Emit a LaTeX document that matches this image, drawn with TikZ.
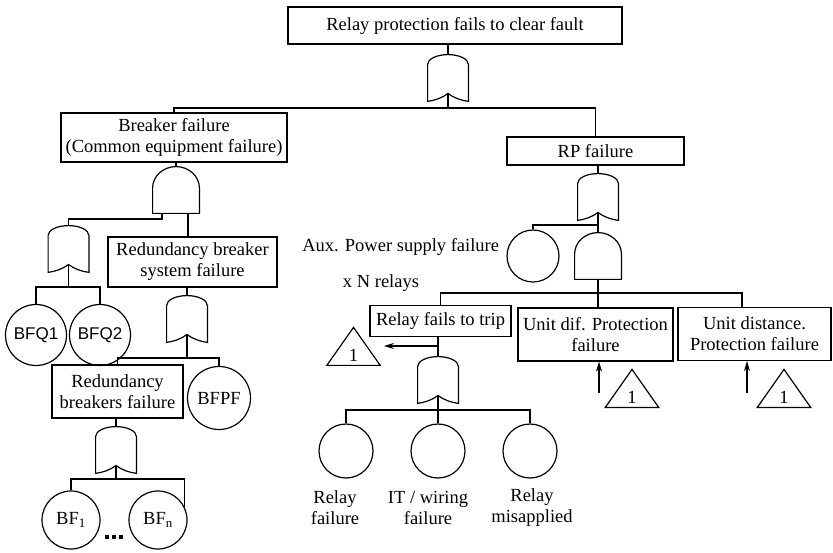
\documentclass[tikz,border=0pt]{standalone}
\usepackage{fontspec}
\setmainfont{Liberation Serif}
\newfontfamily\bfqfont{Liberation Sans}
\usepackage{tikz}
\usetikzlibrary{arrows.meta}

\newcommand{\drawor}[1]{%
  \draw (#1.south west) ++(0.6,0.6) -- ++(0,36.9)
    arc[start angle=180, end angle=0, x radius=20.4, y radius=9.9]
    -- ++(0,-36.9) .. controls +(-7.4,1) and +(6,-4.5) .. ++(-20.4,7.9)
    .. controls +(-6,-4.5) and +(7.4,1) .. ++(-20.4,-7.9) -- cycle;
  \draw (#1.south) -- ++(0,8.5);}
\newcommand{\drawand}[1]{%
  \draw (#1.south west) ++(0.6,0.6) -- ++(0,25.4)
    arc[start angle=180, end angle=0, x radius=23.4, y radius=21.4]
    -- ++(0,-25.4) -- cycle;}
\newcommand{\drawtri}[1]{%
  \draw (#1.south west) ++(0.8,0.6) -- ++(26.7,38) -- ++(26.7,-38) -- cycle;}

\begin{document}
\begin{tikzpicture}[x=1pt, y=1pt, line width=1.2pt,
        every node/.style={font=\fontsize{18.5}{21}\selectfont, align=center},
        evt/.style={draw, rectangle, inner sep=1pt},
        basic/.style={draw, circle, inner sep=0pt, minimum size=#1},
        sansbasic/.style={basic=#1, font=\bfqfont\fontsize{17}{20}\selectfont},
        orgate/.style={rectangle, inner sep=0pt, outer sep=0pt, minimum width=42, minimum height=48},
        andgate/.style={rectangle, inner sep=0pt, outer sep=0pt, minimum width=48, minimum height=48},
        transfer/.style={rectangle, inner sep=0pt, outer sep=0pt, minimum width=55, minimum height=40},
        conn/.style={-{Stealth[length=10pt, width=6pt]}}
    ]
    \useasboundingbox (0,0) rectangle (833,-553);

    \node[evt, minimum width=334, minimum height=37] (top) at (455,-25.5) {Relay protection fails to clear fault};
    \node[orgate] (g0) at (448,-78) {};
    \node[evt, minimum width=226, minimum height=49] (brk) at (174,-137.5) {Breaker failure\\(Common equipment failure)};
    \node[evt, minimum width=177, minimum height=28] (rp) at (595.5,-151) {RP failure};

    \node[andgate] (gb) at (176,-190) {};
    \node[orgate] (gl) at (68.5,-249) {};
    \node[sansbasic=61] (bfq1) at (36,-335) {BFQ1};
    \node[sansbasic=61] (bfq2) at (100,-335) {BFQ2};
    \node[evt, minimum width=169, minimum height=50] (rbs) at (192.5,-262) {Redundancy breaker\\system failure};
    \node[orgate] (grbs) at (187,-319) {};
    \node[evt, minimum width=131, minimum height=53] (rbf) at (117.5,-391.5) {Redundancy\\breakers failure};
    \node[basic=63] (bfpf) at (219,-398) {BFPF};
    \node[orgate] (grbf) at (116,-450) {};
    \node[basic=58] (bf1) at (71,-520) {BF\textsubscript{1}};
    \node[basic=58] (bfn) at (158,-520) {BF\textsubscript{n}};
    \node (dots) at (114,-537) {\rule{4.5pt}{4.5pt}\hspace{2.5pt}\rule{4.5pt}{4.5pt}\hspace{2.5pt}\rule{4.5pt}{4.5pt}};

    \node[orgate] (grp) at (598,-197) {};
    \node[basic=52] (aux) at (533,-256) {};
    \node[anchor=east] (auxlbl) at (503,-247) {Aux. Power supply failure};
    \node[andgate] (gand) at (598,-256) {};
    \node (xn) at (381,-283) {x N relays};
    \node[evt, minimum width=141, minimum height=31] (rft) at (440.5,-321) {Relay fails to trip};
    \node[evt, minimum width=155, minimum height=53] (udif) at (595.5,-334.5) {Unit dif. Protection\\failure};
    \node[evt, minimum width=153, minimum height=53] (udis) at (754.5,-334) {Unit distance.\\Protection failure};
    \node[transfer] (tri1) at (353.5,-346) {\raisebox{-16pt}[0pt][0pt]{1}};
    \node[transfer] (tri2) at (632,-388) {\raisebox{-16pt}[0pt][0pt]{1}};
    \node[transfer] (tri3) at (784,-388) {\raisebox{-16pt}[0pt][0pt]{1}};
    \node[orgate] (grft) at (438,-380) {};
    \node[basic=54] (rf) at (346,-451) {};
    \node[basic=54] (itw) at (438,-451) {};
    \node[basic=54] (rm) at (530,-451) {};
    \node (rflbl) at (335,-507.5) {Relay\\failure};
    \node (itlbl) at (428,-507.5) {IT / wiring\\failure};
    \node (rmlbl) at (532,-507.5) {Relay\\misapplied};

    \foreach \g in {g0,gl,grbs,grbf,grp,grft} {\drawor{\g}}
    \foreach \g in {gb,gand} {\drawand{\g}}
    \foreach \t in {tri1,tri2,tri3} {\drawtri{\t}}

    \draw (top.south -| g0.north) -- (g0.north);
    \draw (g0.south) -- ++(0,-6) -| (brk.north);
    \draw (g0.south) ++(0,-6) -| (rp.north);

    \draw (brk.south -| gb.north) -- (gb.north);
    \coordinate (gbl) at ([xshift=-14]gb.south);
    \coordinate (gbr) at ([xshift=12]gb.south);
    \draw (gbl) -- ++(0,-5) -| (gl.north);
    \draw (gbr) -- (gbr |- rbs.north);
    \draw (gl.south) -- ++(0,-14) -| (bfq1.north);
    \draw (gl.south) ++(0,-14) -| (bfq2.north);
    \draw (rbs.south -| grbs.north) -- (grbs.north);
    \draw (grbs.south) -- ++(0,-15) -| (rbf.north);
    \draw (grbs.south) ++(0,-15) -| (bfpf.north);
    \draw (rbf.south -| grbf.north) -- (grbf.north);
    \draw (grbf.south) -- ++(0,-5) -| (bf1.north);
    \draw (grbf.south) ++(0,-5) -| (bfn.25);

    \draw (rp.south -| grp.north) -- (grp.north);
    \draw (grp.south) -- ++(0,-4) -| (aux.north);
    \draw (grp.south) -- (gand.north);
    \draw (gand.south) -- ++(0,-13) -| (rft.north);
    \draw (gand.south) -- (gand.south |- udif.north);
    \draw (gand.south) ++(0,-13) -| ([xshift=-12.5]udis.north);
    \draw (rft.south -| grft.north) -- (grft.north);
    \coordinate (tap) at (438,-346);
    \draw[conn, shorten >=3pt] (tap) -- (tri1.east);
    \draw (grft.south) -- ++(0,-6) -| (rf.north);
    \draw (grft.south) -- (itw.north);
    \draw (grft.south) ++(0,-6) -| (rm.north);
    \coordinate (up1) at (599,-393);
    \draw[conn] (up1) -- (up1 |- udif.south);
    \coordinate (up2) at (747,-393);
    \draw[conn] (up2) -- (up2 |- udis.south);
\end{tikzpicture}
\end{document}
